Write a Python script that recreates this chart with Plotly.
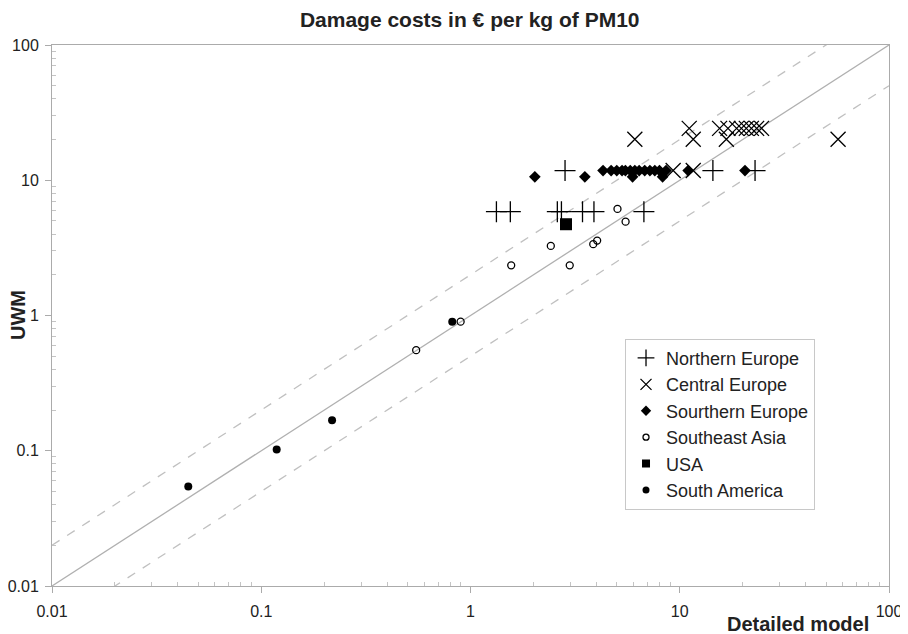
import plotly.graph_objects as go

# ---- data ----
north_x = [1.33, 1.55, 2.60, 2.72, 3.43, 3.89, 6.74, 2.83, 14.4, 22.9]
north_y = [5.86, 5.86, 5.86, 5.86, 5.86, 5.86, 5.86, 11.8, 11.8, 11.8]

central_x = [6.10, 11.1, 11.6, 15.5, 16.7, 17.0, 18.7, 19.7, 20.8, 22.0, 23.3, 24.6, 57.1, 9.3, 11.6]
central_y = [20.1, 24.2, 20.1, 24.2, 20.1, 24.2, 24.2, 24.2, 24.2, 24.2, 24.2, 24.2, 20.1, 11.8, 11.8]

south_eu_x = [2.03, 3.52, 4.3, 4.7, 5.0, 5.3, 5.5, 5.8, 5.95, 6.1, 6.4, 6.8, 7.2, 7.6, 8.0, 8.28, 8.6, 10.97, 20.5]
south_eu_y = [10.6, 10.6, 11.8, 11.8, 11.8, 11.8, 11.8, 11.8, 10.6, 11.8, 11.8, 11.8, 11.8, 11.8, 11.8, 10.6, 11.8, 11.8, 11.8]

se_asia_x = [0.55, 0.897, 1.565, 2.42, 2.98, 3.86, 4.03, 5.04, 5.51]
se_asia_y = [0.554, 0.90, 2.35, 3.27, 2.35, 3.37, 3.58, 6.14, 4.94]

usa_x = [2.86]
usa_y = [4.73]

s_america_x = [0.0448, 0.1185, 0.218, 0.818]
s_america_y = [0.0543, 0.102, 0.168, 0.90]

ref_x = [0.01, 100]
ref_factors = [1, 2, 0.5]

x_tickvals = [0.01, 0.1, 1, 10, 100]
x_ticktext = ["0.01", "0.1", "1", "10", "100"]
y_tickvals = [0.01, 0.1, 1, 10, 100]
y_ticktext = ["0.01", "0.1", "1", "10", "100"]

FONT = "Liberation Sans, Arial, sans-serif"
NARROW = "Liberation Sans Narrow, Arial Narrow, Liberation Sans, Arial, sans-serif"

minor_vals = [m * 10 ** e for e in range(-2, 2) for m in range(2, 10)]

fig = go.Figure()

# reference lines
for f in ref_factors:
    fig.add_trace(go.Scatter(
        x=ref_x, y=[v * f for v in ref_x], mode="lines",
        line=dict(color="#b0b0b0" if f == 1 else "#c0c0c0", width=1.3,
                  dash="solid" if f == 1 else "dash"),
        showlegend=False, hoverinfo="skip"))

series = [
    ("Northern Europe", north_x, north_y,
     dict(symbol="cross-thin-open", size=15, color="black", line=dict(color="black", width=1.3)),
     dict(symbol="cross-thin-open", size=12, color="black", line=dict(color="black", width=1.3))),
    ("Central Europe", central_x, central_y,
     dict(symbol="x-thin-open", size=15, color="black", line=dict(color="black", width=1.3)),
     dict(symbol="x-thin-open", size=11, color="black", line=dict(color="black", width=1.3))),
    ("Sourthern Europe", south_eu_x, south_eu_y,
     dict(symbol="diamond", size=9, color="black"),
     dict(symbol="diamond", size=8, color="black")),
    ("Southeast Asia", se_asia_x, se_asia_y,
     dict(symbol="circle-open", size=7, color="black", line=dict(color="black", width=1.3)),
     dict(symbol="circle-open", size=6, color="black", line=dict(color="black", width=1.3))),
    ("USA", usa_x, usa_y,
     dict(symbol="square", size=12, color="black"),
     dict(symbol="square", size=8, color="black")),
    ("South America", s_america_x, s_america_y,
     dict(symbol="circle", size=8, color="black"),
     dict(symbol="circle", size=7, color="black")),
]

for name, xs, ys, mk, lmk in series:
    fig.add_trace(go.Scatter(x=xs, y=ys, mode="markers", name=name, marker=mk,
                             showlegend=False, legendgroup=name))
for name, xs, ys, mk, lmk in series:
    fig.add_trace(go.Scatter(x=[None], y=[None], mode="markers", name=name, marker=lmk,
                             showlegend=True, legendgroup=name))

axis_common = dict(
    type="log", range=[-2, 2], showgrid=False, zeroline=False, automargin=False,
    showline=True, linecolor="#ababab", linewidth=1, mirror=True,
    ticks="outside", ticklen=6, tickcolor="#ababab",
    tickfont=dict(family=FONT, size=16, color="#222222"),
    minor=dict(tickmode="array", tickvals=minor_vals, ticks="inside", ticklen=4,
               tickcolor="#c4c4c4", showgrid=False),
)

fig.update_layout(
    width=900, height=626,
    margin=dict(l=44, r=19, t=37, b=48, autoexpand=False),
    paper_bgcolor="white", plot_bgcolor="white",
    title=dict(text="<b>Damage costs in € per kg of PM10</b>", x=0.513, xanchor="center",
               y=0.981, yanchor="middle",
               font=dict(family=NARROW, size=21, color="#222222")),
    xaxis=dict(axis_common, tickvals=x_tickvals, ticktext=x_ticktext, ticklabelstandoff=5),
    yaxis=dict(axis_common, tickvals=y_tickvals, ticktext=y_ticktext, ticklabelstandoff=3),
    legend=dict(x=0.6846, y=0.457, xanchor="left", yanchor="top",
                bgcolor="white", bordercolor="#c8c8c8", borderwidth=1,
                font=dict(family=FONT, size=18, color="#222222"),
                itemsizing="trace", itemwidth=30, tracegroupgap=0),
    showlegend=True,
    annotations=[
        dict(text="<b>UWM</b>", xref="paper", yref="paper", x=-0.0406, y=0.501,
             xanchor="center", yanchor="middle", textangle=-90, showarrow=False,
             font=dict(family=NARROW, size=20, color="#222222")),
        dict(text="<b>Detailed model</b>", xref="paper", yref="paper", x=0.979, y=-0.0705,
             xanchor="right", yanchor="middle", showarrow=False,
             font=dict(family=NARROW, size=20, color="#222222")),
    ],
)

fig.write_html("out.html")
